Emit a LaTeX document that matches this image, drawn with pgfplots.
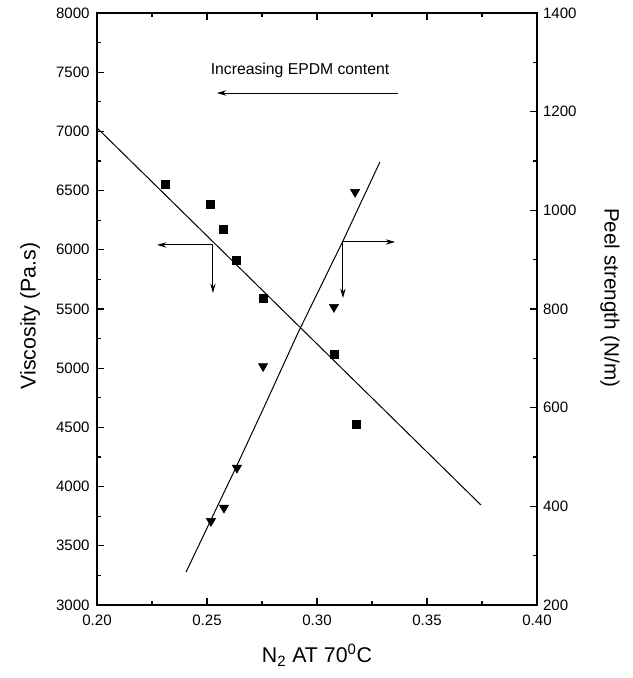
\documentclass[border=0pt]{standalone}
\usepackage{pgfplots}
\pgfplotsset{compat=1.18}
\usepackage{fontspec}
\setmainfont{Liberation Sans}
\usetikzlibrary{arrows.meta}

\begin{document}
\begin{tikzpicture}
\pgfplotsset{
  common/.style={
    width=330pt, height=444pt, scale only axis,
    xmin=0.20, xmax=0.40,
    tick align=inside,
    major tick length=5pt, minor tick length=3pt,
    axis line style={line width=1pt},
    tick style={line width=0.8pt, black},
    tick label style={font=\fontsize{11.3}{13}\selectfont},
    /pgf/number format/assume math mode=true,
    /pgf/number format/1000 sep={},
  },
}
\begin{axis}[common, name=ax,
    ymin=3000, ymax=8000,
    ytick={3000,3500,...,8000},
    minor y tick num=1,
    xtick={0.20,0.25,...,0.40},
    minor x tick num=1,
    xticklabel style={yshift=-4pt, /pgf/number format/fixed, /pgf/number format/fixed zerofill, /pgf/number format/precision=2},
    yticklabel style={xshift=-2pt},
    ytick pos=left,
    xlabel={N\textsubscript{2} AT 70\textsuperscript{0}C},
    ylabel={Viscosity (Pa.s)},
    every axis y label/.style={at={(axis description cs:-0.152,0.488)}, rotate=90, anchor=center, font=\fontsize{16}{18}\selectfont},
    every axis x label/.style={at={(axis description cs:0.5,-0.085)}, anchor=center, font=\fontsize{16}{18}\selectfont},
    clip=false,
]
% viscosity data
\addplot[only marks, mark=square*, mark size=3.1pt, black] coordinates {
  (0.2309, 6556)
  (0.2514, 6387)
  (0.2573, 6176)
  (0.2632, 5914)
  (0.2755, 5593)
  (0.3077, 5120)
  (0.3177, 4529)
};
% linear fit
\addplot[black, line width=0.75pt] coordinates {
  (0.200, 7030)
  (0.3745, 3845)
};
% annotations
\node[font=\fontsize{11.8}{13}\selectfont] at (axis cs:0.2923,7519) {Increasing EPDM content};
\draw[line width=0.75pt, -{Stealth[length=7pt,width=4pt]}] (axis cs:0.3368,7324) -- (axis cs:0.2545,7324);
\draw[line width=0.75pt, -{Stealth[length=7pt,width=4pt]}] (axis cs:0.2527,6041) -- (axis cs:0.2273,6041);
\draw[line width=0.75pt, -{Stealth[length=7pt,width=4pt]}] (axis cs:0.2527,6041) -- (axis cs:0.2527,5635);
\draw[line width=0.75pt, -{Stealth[length=7pt,width=4pt]}] (axis cs:0.3118,6066) -- (axis cs:0.3355,6066);
\draw[line width=0.75pt, -{Stealth[length=7pt,width=4pt]}] (axis cs:0.3118,6066) -- (axis cs:0.3118,5593);
\end{axis}

\begin{axis}[common,
    ymin=200, ymax=1400,
    ytick={200,400,...,1400},
    minor y tick num=1,
    axis x line=none,
    axis y line*=right,
    yticklabel style={xshift=1pt},
    ylabel={Peel strength (N/m)},
    every axis y label/.style={at={(axis description cs:1.166,0.519)}, rotate=-90, anchor=center, font=\fontsize{15.5}{18}\selectfont},
]
% peel strength data
\addplot[only marks, mark=triangle*, mark options={rotate=180}, mark size=4pt, black] coordinates {
  (0.2518, 370)
  (0.2577, 397)
  (0.2636, 478)
  (0.2755, 684)
  (0.3077, 804)
  (0.3173, 1037)
};
\addplot[black, line width=0.75pt] coordinates {
  (0.2405, 267)
  (0.2635, 482)
  (0.2755, 597)
  (0.2914, 752)
  (0.3118, 938)
  (0.3286, 1098)
};
\end{axis}

\path[use as bounding box] ([xshift=-72.75pt,yshift=-54.75pt]ax.south west) rectangle ([xshift=71.25pt,yshift=9.75pt]ax.north east);
\end{tikzpicture}
\end{document}
